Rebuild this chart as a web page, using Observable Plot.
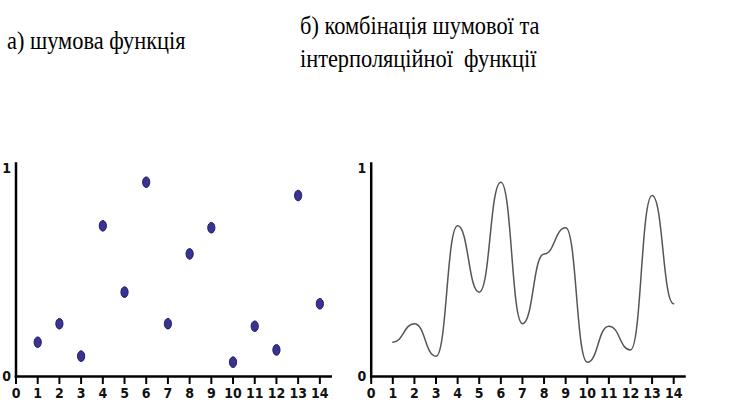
<!DOCTYPE html>
<html>
<head>
<meta charset="utf-8">
<script src="https://cdn.jsdelivr.net/npm/d3@7"></script>
<script src="https://cdn.jsdelivr.net/npm/@observablehq/plot@0.6"></script>
<style>
  html, body { margin: 0; padding: 0; background: #fff; }
  #root { position: relative; width: 750px; height: 411px; overflow: hidden; background: #fff; }
</style>
</head>
<body>
<div id="root"></div>
<script>
// ---- data ----
const positions = [1, 2, 3, 4, 5, 6, 7, 8, 9, 10, 11, 12, 13, 14];
const noise = [0.165, 0.254, 0.098, 0.725, 0.406, 0.935, 0.254, 0.590, 0.716, 0.069, 0.242, 0.128, 0.871, 0.350];
const xTicks = [0, 1, 2, 3, 4, 5, 6, 7, 8, 9, 10, 11, 12, 13, 14];
const yTicks = [0, 1];
const titleA = "а) шумова функція";
const titleB1 = "б) комбінація шумової та";
const titleB2 = "інтерполяційної  функції";

const data = positions.map((x, i) => ({x, y: noise[i]}));

const root = document.getElementById("root");

function addTitle(text, left, top) {
  const d = document.createElement("div");
  d.style.cssText = "position:absolute;left:" + left + "px;top:" + top + "px;font-family:'Liberation Serif';font-size:26px;line-height:26px;color:#000;white-space:pre;transform:scaleX(0.86);transform-origin:0 0;";
  d.textContent = text;
  root.appendChild(d);
}
addTitle(titleA, 7, 28);
addTitle(titleB1, 300, 13);
addTitle(titleB2, 300, 46);

const ellipse = {
  draw(ctx) {
    const rx = 3.6, ry = 5.3, k = 0.5523;
    ctx.moveTo(rx, 0);
    ctx.bezierCurveTo(rx, k * ry, k * rx, ry, 0, ry);
    ctx.bezierCurveTo(-k * rx, ry, -rx, k * ry, -rx, 0);
    ctx.bezierCurveTo(-rx, -k * ry, -k * rx, -ry, 0, -ry);
    ctx.bezierCurveTo(k * rx, -ry, rx, -k * ry, rx, 0);
    ctx.closePath();
  }
};

function axes() {
  return [
    Plot.axisX(xTicks, {anchor: "bottom", label: null, tickSize: 8, tickPadding: 4, strokeWidth: 2, stroke: "#000", fill: "#111", tickFormat: d => String(d)}),
    Plot.axisY(yTicks, {anchor: "left", label: null, tickSize: 0, tickPadding: 5, fill: "#111", tickFormat: d => String(d)}),
    Plot.frame({anchor: "left", stroke: "#000", strokeWidth: 2.5}),
    Plot.frame({anchor: "bottom", stroke: "#000", strokeWidth: 2.5})
  ];
}

const common = {
  height: 411,
  marginTop: 163,
  marginBottom: 35,
  x: {domain: [0, 14.5], axis: null},
  y: {domain: [0, 1.025], axis: null},
  style: {fontFamily: "'DejaVu Sans Condensed', 'DejaVu Sans Mono', monospace", fontSize: "14px", fontWeight: "bold", background: "transparent", overflow: "visible"}
};

const left = Plot.plot({
  ...common,
  width: 340,
  marginLeft: 15.5,
  marginRight: 9.8,
  marks: [
    ...axes(),
    Plot.dot(data, {x: "x", y: "y", symbol: ellipse, fill: "#3a3490", stroke: "#221c6c", strokeWidth: 1})
  ]
});

const right = Plot.plot({
  ...common,
  width: 410,
  marginLeft: 30.7,
  marginRight: 66,
  marks: [
    ...axes(),
    Plot.line(data, {x: "x", y: "y", curve: "bump-x", stroke: "#555", strokeWidth: 1.5})
  ]
});

const p1 = document.createElement("div");
p1.style.cssText = "position:absolute;top:0;left:0";
p1.appendChild(left);
const p2 = document.createElement("div");
p2.style.cssText = "position:absolute;top:0;left:340px";
p2.appendChild(right);
root.appendChild(p1);
root.appendChild(p2);
</script>
</body>
</html>
